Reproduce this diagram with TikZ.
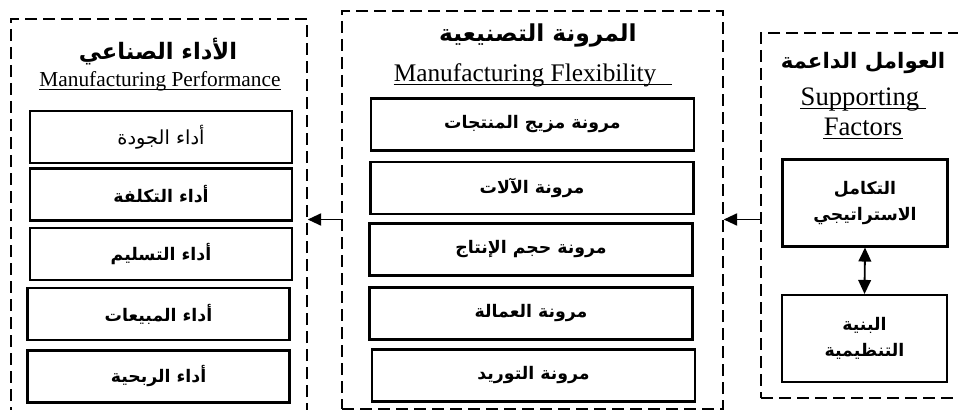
\documentclass[tikz,border=0pt]{standalone}
\usepackage{fontspec}
\setmainfont{Liberation Serif}
\newfontfamily\arabicfont[Script=Arabic]{DejaVu Sans}
\TeXXeTstate=1
\usetikzlibrary{arrows.meta,fit}

% Arabic text run, right to left
\newcommand{\artxt}[1]{{\arabicfont\beginR #1\endR}}

\tikzset{
  group/.style={draw, line width=1.1pt, dash pattern=on 9pt off 4.5pt, inner sep=0pt},
  item/.style={draw, line width=1.8pt, inner sep=0pt, fill=white,
    font=\arabicfont\bfseries\fontsize{13}{15}\selectfont},
  leftbox/.style={item, minimum width=196.5pt, minimum height=39pt},
  midbox/.style={item, minimum width=242.5pt, minimum height=39pt},
  sidebox/.style={item, align=center, minimum width=123.5pt, minimum height=65pt,
    font=\arabicfont\bfseries\fontsize{13}{19.5}\selectfont},
  artitle/.style={inner sep=0pt},
  entitle/.style={inner sep=0pt, anchor=base},
  conn/.style={line width=1.4pt, -{Triangle[length=10pt,width=9pt]}},
  both/.style={line width=1.4pt, {Triangle[length=10.5pt,width=9.5pt]}-{Triangle[length=10.5pt,width=9.5pt]}},
}

\begin{document}
\begin{tikzpicture}[x=0.75pt,y=-0.75pt]
\useasboundingbox (0,0) rectangle (958,410);

% --- dashed groups ---
\node[group, fit={(11,19) (307,425)}] (perf) {};
\node[group, fit={(342,11) (723,409)}] (flex) {};
\node[group, fit={(761,33) (975,398)}] (supp) {};

% --- Manufacturing Performance ---
\node[artitle, font=\arabicfont\bfseries\fontsize{17}{20}\selectfont] (perfAr) at (158,52) {\artxt{الأداء الصناعي}};
\node[entitle, font=\fontsize{16}{19}\selectfont] (perfEn) at (160,87) {Manufacturing Performance};
\draw[line width=0.8pt] ([yshift=-1.6pt]perfEn.base west) -- ([yshift=-1.6pt]perfEn.base east);

\node[leftbox, font=\arabicfont\fontsize{14.5}{17}\selectfont] (p1) at (161,137) {\artxt{أداء الجودة}};
\node[leftbox] (p2) at (161,194.5) {\artxt{أداء التكلفة}};
\node[leftbox] (p3) at (161,254) {\artxt{أداء التسليم}};
\node[leftbox] (p4) at (158.5,314) {\artxt{أداء المبيعات}};
\node[leftbox] (p5) at (158.5,376.5) {\artxt{أداء الربحية}};

% --- Manufacturing Flexibility ---
\node[artitle, font=\arabicfont\bfseries\fontsize{17.5}{21}\selectfont] (flexAr) at (538,35.5) {\artxt{المرونة التصنيعية}};
\node[entitle, font=\fontsize{19}{22}\selectfont] (flexEn) at (525,82) {Manufacturing Flexibility};
\draw[line width=0.8pt] ([yshift=-2pt]flexEn.base west) -- ([yshift=-2pt,xshift=12pt]flexEn.base east);

\node[midbox] (f1) at (532.5,124.5) {\artxt{مرونة مزيج المنتجات}};
\node[midbox] (f2) at (532,188) {\artxt{مرونة الآلات}};
\node[midbox] (f3) at (531,249.5) {\artxt{مرونة حجم الإنتاج}};
\node[midbox] (f4) at (531,313.5) {\artxt{مرونة العمالة}};
\node[midbox] (f5) at (533.5,375.5) {\artxt{مرونة التوريد}};

% --- Supporting Factors ---
\node[artitle, font=\arabicfont\bfseries\fontsize{16}{19}\selectfont] (suppAr) at (863,63) {\artxt{العوامل الداعمة}};
\node[entitle, font=\fontsize{20}{23}\selectfont] (suppEn1) at (860,106) {Supporting};
\draw[line width=0.8pt] ([yshift=-2pt]suppEn1.base west) -- ([yshift=-2pt,xshift=5pt]suppEn1.base east);
\node[entitle, font=\fontsize{20}{23}\selectfont] (suppEn2) at (863,136) {Factors};
\draw[line width=0.8pt] ([yshift=-2pt]suppEn2.base west) -- ([yshift=-2pt]suppEn2.base east);

\node[sidebox] (s1) at (865,203) {\artxt{التكامل}\\\artxt{الاستراتيجي}};
\node[sidebox] (s2) at (864.5,338.5) {\artxt{البنية}\\\artxt{التنظيمية}};

% --- connectors ---
\coordinate (lvl) at (0,219.5);
\draw[conn] (flex.west |- lvl) -- (perf.east |- lvl);
\draw[conn] (supp.west |- lvl) -- (flex.east |- lvl);
\draw[both] (s1.south) -- (s2.north);
\end{tikzpicture}
\end{document}
